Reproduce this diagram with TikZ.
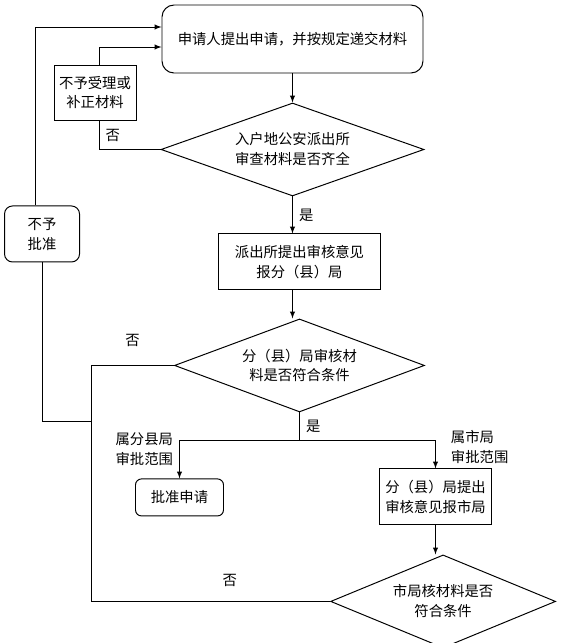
\documentclass[tikz,border=0pt]{standalone}
\usepackage{fontspec}
\newfontfamily\cjk{Noto Sans CJK SC}
\usepackage{tikz}
\usetikzlibrary{shapes.geometric, arrows, positioning}

\begin{document}
\begin{tikzpicture}[
    line width=0.7pt,
    every node/.style={font=\cjk\fontsize{10.2}{14.2}\selectfont, align=center},
    block/.style={rectangle, draw, inner sep=0pt},
    roundblock/.style={rectangle, draw, rounded corners=0.3cm, inner sep=0pt},
    decision/.style={diamond, draw, aspect=2.8, inner sep=0pt},
    note/.style={inner sep=0pt},
    arrow/.style={->, >=latex}
]
    \useasboundingbox (-7.3125,0.975) rectangle (6.8875,-15.1);

    % Nodes
    \node (apply) [roundblock, minimum width=6.525cm, minimum height=1.7cm] at (0,0) {申请人提出申请，并按规定递交材料};
    \node (check1) [decision, minimum width=6.575cm, minimum height=2.325cm, below=0.725cm of apply] {入户地公安派出所\\审查材料是否齐全};
    \node (reject1) [block, minimum width=2.05cm, minimum height=1.375cm, left=0.625cm of apply, yshift=-1.3375cm] {不予受理或\\补正材料};
    \node (report1) [block, minimum width=4.05cm, minimum height=1.4cm, below=0.925cm of check1, xshift=0.175cm] {派出所提出审核意见\\报分（县）局};
    \node (nogrant) [roundblock, rounded corners=0.2cm, minimum width=1.875cm, minimum height=1.4cm, left=3.45cm of report1, yshift=0.7cm] {不予\\批准};
    \node (check2) [decision, minimum width=6.25cm, minimum height=2.325cm, below=0.7cm of report1] {分（县）局审核材\\料是否符合条件};

    % Branches
    \node (grant) [roundblock, rounded corners=0.15cm, minimum width=2.2cm, minimum height=0.925cm, below=1.65cm of check2, xshift=-3cm] {批准申请};
    \node (report2) [block, minimum width=2.8cm, minimum height=1.4cm, below=1.4cm of check2, xshift=3.4cm] {分（县）局提出\\审核意见报市局};
    \node (check3) [decision, minimum width=5.625cm, minimum height=2.325cm, below=0.725cm of report2, xshift=0.19cm] {市局核材料是否\\符合条件};
    \node (scopeA) [note, above left=0.3cm and 0.15cm of grant.north] {属分县局\\审批范围};
    \node (scopeB) [note, align=left, above right=0.1cm and 0.375cm of report2.north] {属市局\\审批范围};

    % Arrows
    \draw [arrow] (apply.south) -- (check1.north);
    \draw (check1.west) -| ([xshift=0.1cm]reject1.south) node[pos=0.75, right=1pt] {否};
    \draw [arrow] ([xshift=0.1cm]reject1.north) |- ([yshift=-0.2cm]apply.west);
    \draw [arrow] (check1.south) -- (check1.south |- report1.north) node[midway, right=1pt] {是};
    \draw [arrow] (check1.south |- report1.south) -- (check1.south |- check2.north);

    \draw (check2.south) -- ++(0,-0.7) coordinate (split) node[midway, right=1pt] {是};
    \draw [arrow] (split) -| (grant.north);
    \draw [arrow] (split) -| (report2.north);
    \draw [arrow] (report2.south) -- (report2.south |- check3.north);

    \draw (check2.west) -- ++(-2.075,0) coordinate (nojoin) node[midway, above=0.35cm] {否};
    \draw (nojoin) -- (nojoin |- check3.west) -- (check3.west) node[pos=0.58, above=0.25cm] {否};
    \draw ([yshift=-1.4cm]nojoin) -| (nogrant.south);
    \draw [arrow] ([xshift=-0.16cm]nogrant.north) |- ([yshift=0.3cm]apply.west);

\end{tikzpicture}
\end{document}
